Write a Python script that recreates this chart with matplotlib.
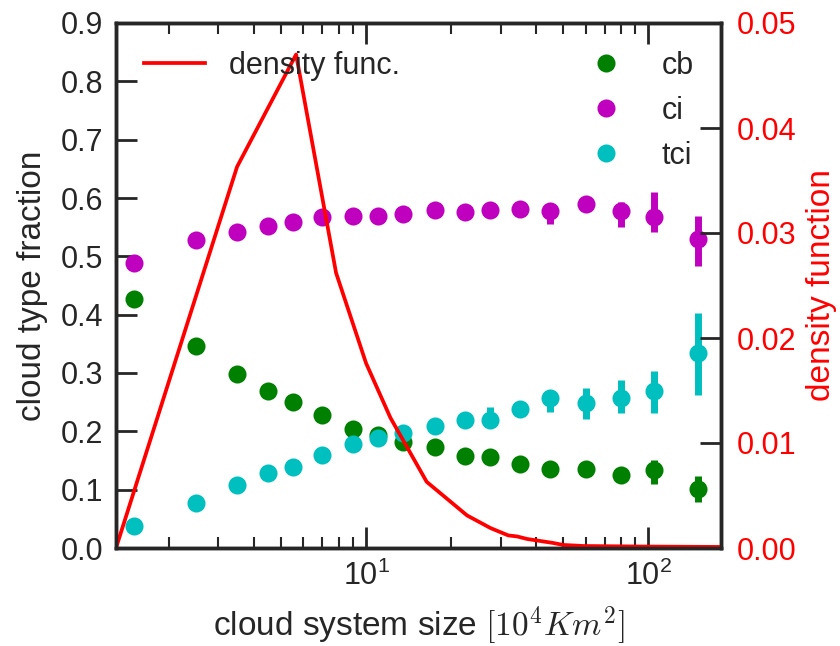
import matplotlib
matplotlib.use("Agg")
import matplotlib.pyplot as plt
import numpy as np

# ---------------- data ----------------
sizes = [1.5, 2.5, 3.5, 4.5, 5.5, 7, 9, 11, 13.5, 17.5, 22.5, 27.5, 35, 45, 60, 80, 105, 150]

cb = [0.427, 0.347, 0.298, 0.269, 0.251, 0.228, 0.204, 0.194, 0.182, 0.173,
      0.157, 0.156, 0.144, 0.135, 0.135, 0.126, 0.133, 0.101]
cb_lo = [0.005, 0.005, 0.005, 0.005, 0.005, 0.005, 0.005, 0.005, 0.005, 0.005,
         0.005, 0.005, 0.005, 0.008, 0.008, 0.008, 0.023, 0.022]
cb_hi = [0.005, 0.005, 0.005, 0.005, 0.005, 0.005, 0.005, 0.005, 0.005, 0.005,
         0.005, 0.005, 0.005, 0.008, 0.008, 0.008, 0.018, 0.022]

ci = [0.488, 0.528, 0.541, 0.552, 0.559, 0.567, 0.569, 0.569, 0.573, 0.579,
      0.576, 0.579, 0.581, 0.577, 0.590, 0.577, 0.567, 0.529]
ci_lo = [0.005, 0.005, 0.005, 0.005, 0.005, 0.005, 0.005, 0.005, 0.005, 0.005,
         0.005, 0.008, 0.008, 0.021, 0.008, 0.026, 0.025, 0.045]
ci_hi = [0.005, 0.005, 0.005, 0.005, 0.005, 0.005, 0.005, 0.005, 0.005, 0.005,
         0.005, 0.008, 0.008, 0.012, 0.008, 0.017, 0.043, 0.040]

tci = [0.038, 0.078, 0.108, 0.129, 0.139, 0.159, 0.179, 0.189, 0.198, 0.209,
       0.219, 0.219, 0.238, 0.258, 0.248, 0.258, 0.269, 0.334]
tci_lo = [0.005, 0.005, 0.005, 0.005, 0.005, 0.005, 0.005, 0.005, 0.005, 0.005,
          0.005, 0.010, 0.008, 0.025, 0.026, 0.026, 0.037, 0.071]
tci_hi = [0.005, 0.005, 0.005, 0.005, 0.005, 0.005, 0.005, 0.005, 0.005, 0.005,
          0.005, 0.023, 0.008, 0.012, 0.026, 0.030, 0.035, 0.069]

dens_x = [1.3, 3.49, 5.65, 7.83, 10.0, 12.2, 16.4, 22.8, 27.6, 31.9, 34.3, 37.2,
          46.0, 50.0, 58.9, 93.8, 181]
dens_y = [0.0, 0.0363, 0.0470, 0.0262, 0.0176, 0.0124, 0.0063, 0.0031, 0.0019,
          0.0012, 0.0011, 0.00086, 0.00048, 0.00029, 0.00019, 0.00014, 0.0001]

left_ticks = [0.0, 0.1, 0.2, 0.3, 0.4, 0.5, 0.6, 0.7, 0.8, 0.9]
right_ticks = [0.00, 0.01, 0.02, 0.03, 0.04, 0.05]

# ---------------- style ----------------
dark = "#262626"
plt.rcParams["font.family"] = ["Liberation Sans", "DejaVu Sans"]
plt.rcParams["mathtext.fontset"] = "cm"
plt.rcParams["text.color"] = dark
plt.rcParams["axes.labelcolor"] = dark
plt.rcParams["xtick.color"] = dark
plt.rcParams["ytick.color"] = dark
plt.rcParams["axes.edgecolor"] = dark

fig = plt.figure(figsize=(8.4, 6.46), dpi=100)
ax = fig.add_axes([116/840, 1-548/646, (721-116)/840, (548-23)/646])

series = [("cb", cb, cb_lo, cb_hi, "g"),
          ("ci", ci, ci_lo, ci_hi, "m"),
          ("tci", tci, tci_lo, tci_hi, "c")]
for name, vals, lo, hi, col in series:
    ax.errorbar(sizes, vals, yerr=[lo, hi], fmt="none", ecolor=col,
                elinewidth=5, capsize=0)
    ax.plot(sizes, vals, "o", color=col, markersize=13, markeredgewidth=0,
            label=name)

ax.set_xscale("log")
ax.set_xlim(1.3, 181)
ax.set_ylim(0, 0.9)
ax.set_yticks(left_ticks)
ax.set_yticklabels([f"{t:.1f}" for t in left_ticks])
for s in ax.spines.values():
    s.set_linewidth(2.5)
    s.set_color(dark)
ax.tick_params(which="major", direction="in", length=15, width=2, labelsize=22,
               top=True, right=False)
ax.tick_params(which="minor", direction="in", length=8, width=1.5, top=True,
               right=False)
ax.tick_params(axis="y", pad=9)
ax.tick_params(axis="x", which="major", pad=9)
ax.tick_params(axis="x", which="minor", labelbottom=False)
ax.set_xlabel(r"cloud system size $[10^4 Km^2]$", fontsize=24, labelpad=9)
ax.set_ylabel("cloud type fraction", fontsize=24, labelpad=9)
ax.legend(loc="upper right", frameon=False, fontsize=22, numpoints=1)

ax2 = ax.twinx()
ax2.plot(dens_x, dens_y, color="r", lw=2.7, label="density func.")
ax2.set_ylim(0, 0.05)
ax2.set_xlim(1.3, 181)
ax2.set_yticks(right_ticks)
ax2.set_yticklabels([f"{t:.2f}" for t in right_ticks])
ax2.tick_params(axis="y", which="major", direction="in", length=15, width=2,
                labelsize=22, color=dark, labelcolor="r", pad=11.5)
ax2.tick_params(axis="y", which="minor", length=0)
for s in ax2.spines.values():
    s.set_linewidth(2.5)
    s.set_color(dark)
ax2.set_ylabel("density function", fontsize=24, color="r", labelpad=7)
ax2.legend(loc="upper left", frameon=False, fontsize=22)

fig.savefig("out.png", dpi=100)
